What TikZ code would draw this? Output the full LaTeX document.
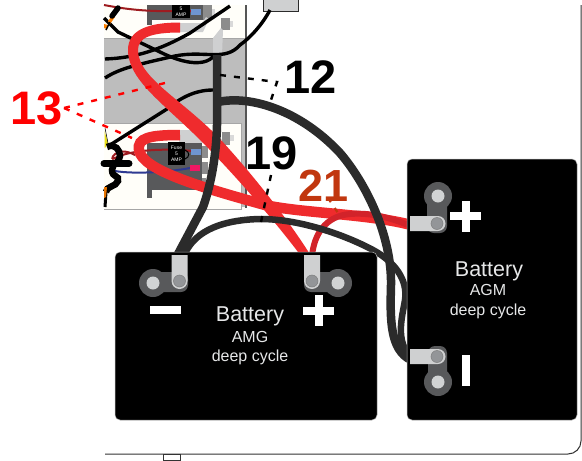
\documentclass[tikz,border=0pt]{standalone}
\usepackage{fontspec}
\setmainfont{Liberation Sans}
\definecolor{panelgrey}{HTML}{BDBDBD}
\definecolor{cream}{HTML}{FFFEF9}
\definecolor{blockgrey}{HTML}{58595B}
\definecolor{lugfill}{HTML}{CFD0D1}
\definecolor{holefill}{HTML}{939598}
\definecolor{postin}{HTML}{D1D3D4}
\definecolor{cabred}{HTML}{EF2B2D}
\definecolor{cabdark}{HTML}{D2232A}
\definecolor{cabblack}{HTML}{2B2B2B}
\definecolor{wirered}{HTML}{9E1B20}
\definecolor{wireblue}{HTML}{2E3A92}
\definecolor{fuseblue}{HTML}{6F94CF}
\definecolor{fusepink}{HTML}{EE1763}
\definecolor{numorange}{HTML}{C1370F}
\definecolor{textlight}{HTML}{E6E7E8}
\tikzset{
  battery/.style={fill=black,draw=black!30,line width=0.5pt,rounded corners=5pt},
  post/.style={circle,fill=blockgrey,minimum size=28pt,inner sep=0pt},
  postcore/.style={circle,fill=postin,minimum size=13pt,inner sep=0pt},
  hole/.style={circle,fill=holefill,draw=lugfill!60!black,line width=0.5pt,minimum size=12pt,inner sep=0pt},
  lug/.style={fill=lugfill},
  strap/.style={fill=blockgrey,rounded corners=7pt},
  redcable/.style={draw=cabred,line width=10.5pt},
  blackcable/.style={draw=cabblack,line width=8.5pt},
  thinwire/.style={draw=black,line width=3.4pt},
  bign/.style={font=\bfseries\fontsize{47pt}{47pt}\selectfont,inner sep=0pt},
  batt/.style={text=textlight,inner sep=0pt},
  dashred/.style={draw=red,line width=2.4pt,dash pattern=on 6pt off 8pt},
  dashblack/.style={draw=black,line width=2.4pt,dash pattern=on 6pt off 8pt},
  dashorange/.style={draw=numorange,line width=2.2pt,dash pattern=on 5pt off 7pt},
  sign/.style={fill=white},
  fuselabel/.style={fill=black,text=white,font=\fontsize{5pt}{6pt}\selectfont,align=center,inner sep=0pt},
}
\begin{document}
\begin{tikzpicture}[x=1pt,y=-1pt]
\useasboundingbox (0,0) rectangle (582,461);
\fill[white] (0,0) rectangle (582,461);
% outer frame
\draw[black!80,line width=1pt] (105,454) -- (568,454) arc[start angle=270,delta angle=90,radius=13pt] -- (581,5);
\draw[black!80,fill=white,line width=0.7pt] (163.5,454.5) rectangle (180,460.5);
\draw[cabblack,fill=lugfill,line width=1pt] (263,-2) -- (263,11) -- (298,11) -- (298,-2);
% panel
\fill[cream] (104,5) rectangle (245,210);
\fill[panelgrey] (104,38) rectangle (245,123);
\fill[panelgrey] (241,123) rectangle (245,207);
\draw[black!35,line width=0.7pt] (104,38) -- (245,38);
\draw[black!35,line width=0.8pt] (104,123) -- (241,123) -- (241,209.5) -- (104,209.5);
\draw[cabblack!80,line width=2pt] (246,5) -- (246,208);
% upper fuse block
\fill[blockgrey] (147,5) rectangle (152,25);
\fill[blockgrey] (147,5) rectangle (205,20);
\draw[wirered,line width=2pt] (104,5) .. controls (130,10) and (150,12) .. (192,11);
\node[fuselabel,minimum width=18pt,minimum height=13pt] (topfuse) at (181,11.5) {5\\AMP};
\fill[fuseblue] (191,8.5) rectangle (201,14.5);
\fill[black!45] (203,5) rectangle (212,20);
\fill[black!15] (212,9) rectangle (215,16);
\fill[lugfill] (179,23) -- (202,23) -- (206,17) -- (209,19) -- (203,32) -- (179,32) -- cycle;
\fill[black!45] (221,18) rectangle (230,30);
\fill[black!15] (230,21) rectangle (233,27);
\fill[lugfill] (213,38) -- (221,28) -- (223,30) -- (222,55) -- (213,55) -- cycle;
% lower fuse block
\fill[blockgrey] (147,143) rectangle (152,198);
\fill[blockgrey] (147,143) rectangle (202,190);
\fill[lugfill] (179,130) rectangle (203,143);
\fill[black!45] (202,146) rectangle (208,158);
\fill[black!45] (202,162) rectangle (208,174);
\fill[black!45] (202,178) rectangle (206,190);
\fill[black!45] (222,132) rectangle (230,145);
\fill[black!15] (230,135) rectangle (234,141);
\draw[black!25,line width=0.5pt] (203,131) -- (222,140);
\draw[wirered,line width=2pt] (192,151) .. controls (165,148) and (130,150) .. (115,158) .. controls (108,163) and (115,144) .. (135,155);
\draw[wireblue,line width=2pt] (190,168) .. controls (170,172) and (130,175) .. (110,170);
\fill[fuseblue] (191,149) rectangle (201,155);
\fill[fusepink] (190,165) rectangle (200,171);
\node[fuselabel,minimum width=17pt,minimum height=23pt] (lowfuse) at (176.5,153.5) {Fuse\\5\\AMP};
\draw[black,line width=1pt] (185,150) .. controls (190,152) and (190,157) .. (185,159);
% small harness, upper left
\draw[thinwire] (104,18) -- (118,32) -- (160,52) .. controls (180,62) and (203,68) .. (214,56);
\fill[orange] (108,21) -- (113,15) -- (115,17) -- (110,24) -- cycle;
\fill[orange] (104,24) -- (108,25) -- (107,29) -- (104,28) -- cycle;
\draw[black,line width=5.5pt,line cap=round] (112,16) -- (118,8);
\draw[black,line width=1.5pt] (106,30) -- (110,22);
% wires on the grey panel
\draw[thinwire] (105,59) .. controls (135,58) and (160,50) .. (190,33) -- (230,6);
\draw[thinwire] (105,78) .. controls (120,68) and (140,64) .. (175,56) .. controls (205,50) and (225,62) .. (240,45) .. controls (250,38) and (262,25) .. (270,10);
\draw[thinwire] (110,145) -- (167,109) .. controls (180,98) and (195,90) .. (213,90);
% lower left harness
\fill[yellow!90!black] (104.5,131) -- (108,143) -- (105,148) -- (104.5,147) -- cycle;
\draw[black,line width=0.5pt] (105,128) -- (108,143);
\draw[black,line width=6.5pt] (107,147) .. controls (115,143) and (120,150) .. (120,156) .. controls (120,163) and (112,163) .. (112,170) .. controls (112,178) and (120,175) .. (118,181) .. controls (116,187) and (106,186) .. (106,192);
\draw[black,line width=7pt,line cap=round] (104,163.5) -- (129,163.5);
\draw[black,line width=3pt] (106,192) -- (105,207);
\fill[orange!90!black] (104,187) -- (107,187) -- (106,197) -- (104,198) -- cycle;
% red cables
\fill[cabred] (180,22.5) .. controls (148,22.5) and (128,30) .. (128,50) .. controls (128,82) and (168,106) .. (209,149) .. controls (244,185) and (281,229) .. (301,256) -- (311,256) .. controls (290,222) and (254,176) .. (221,140) .. controls (182,99) and (138,78) .. (138,50) .. controls (138,38) and (150,32.5) .. (180,32.5) -- cycle;
\draw[redcable] (180,135) .. controls (150,135) and (137,138) .. (139,150) .. controls (142,170) and (200,187) .. (265,205) .. controls (300,213) and (370,214) .. (411,225);
\draw[cabdark,line width=6pt] (312,256) .. controls (314,235) and (325,216) .. (350,214) .. controls (375,212) and (395,220) .. (411,226);
% black cables
\draw[blackcable] (217,55) -- (217,110) .. controls (218,150) and (211,185) .. (203,207) -- (177,256);
\draw[blackcable] (218,102) .. controls (250,95) and (300,110) .. (340,153) .. controls (365,182) and (392,235) .. (391,285) .. controls (390,320) and (390,350) .. (411,360);
\draw[cabblack,line width=6.5pt] (184,256) .. controls (192,235) and (215,220) .. (260,219) .. controls (300,219) and (345,235) .. (373,250) .. controls (395,262) and (408,280) .. (405,300) .. controls (402,318) and (395,340) .. (411,358);
% batteries
\draw[battery] (115,252) rectangle (377,420);
\draw[battery] (407,159) rectangle (577,420);
% battery 1 terminals
\fill[strap] (153,272) rectangle (188,292);
\fill[strap] (304,272) rectangle (340,292);
\node[post] (p1) at (153,283) {};
\node[postcore] at (p1) {};
\node[post] (p2) at (338,283) {};
\node[postcore] at (p2) {};
\path[lug] (171.5,255) -- (187.5,255) -- (187.5,281) arc[start angle=0,delta angle=-180,radius=8pt] -- cycle;
\path[lug] (304,255) -- (320,255) -- (320,281) arc[start angle=0,delta angle=-180,radius=8pt] -- cycle;
\node[hole] at (179.5,281) {};
\node[hole] at (312,281) {};
% battery 2 terminals
\fill[strap] (427,196) rectangle (447,233);
\fill[strap] (428,346) rectangle (447,382);
\node[post] (p3) at (438,196) {};
\node[postcore] at (p3) {};
\node[post] (p4) at (438,382) {};
\node[postcore] at (p4) {};
\path[lug] (410,216) -- (438,216) arc[start angle=90,delta angle=-180,radius=7.5pt] -- (410,231) -- cycle;
\path[lug] (410,349) -- (438,349) arc[start angle=90,delta angle=-180,radius=7.5pt] -- (410,364) -- cycle;
\node[hole] at (437,223.5) {};
\node[hole] at (437,356.5) {};
% signs
\fill[sign] (150,306) rectangle (181,314);
\fill[sign] (303,306.5) rectangle (334,314.5);
\fill[sign] (314.5,295) rectangle (322.5,326);
\fill[sign] (450,212) rectangle (481,220);
\fill[sign] (461.5,201) rectangle (469.5,232);
\fill[sign] (462,355) rectangle (470,386);
% battery text
\node[batt,font=\fontsize{21.5pt}{23pt}\selectfont] (b1) at (250,316) {Battery};
\node[batt,font=\fontsize{16pt}{17pt}\selectfont] (b1a) at (250,337) {AMG};
\node[batt,font=\fontsize{16pt}{17pt}\selectfont] (b1b) at (250,357) {deep cycle};
\node[batt,font=\fontsize{21.5pt}{23pt}\selectfont] (b2) at (489,271) {Battery};
\node[batt,font=\fontsize{16pt}{17pt}\selectfont] (b2a) at (488,290) {AGM};
\node[batt,font=\fontsize{16pt}{17pt}\selectfont] (b2b) at (488,311) {deep cycle};
% numbers
\node[bign,text=red] (n13) at (36.5,108) {13};
\node[bign,text=black] (n12) at (310.5,77) {12};
\node[bign,text=black] (n19) at (272,153) {19};
\node[bign,text=numorange,font=\bfseries\fontsize{45pt}{45pt}\selectfont] (n21) at (323.5,186) {21};
% leaders
\coordinate (c13a) at (165,83);
\coordinate (c13b) at (132,138);
\coordinate (c13o) at (64,108);
\draw[dashred] (c13o) -- (c13a);
\draw[dashred] (c13o) -- (c13b);
\coordinate (c12a) at (220,75);
\coordinate (c12b) at (277,82);
\coordinate (c12c) at (271,100);
\draw[dashblack] (c12a) -- (c12b) -- (c12c);
\coordinate (c19a) at (271,175);
\coordinate (c19b) at (261,222);
\draw[dashblack] (c19a) -- (c19b);
\coordinate (c21a) at (328,198);
\coordinate (c21b) at (340,216);
\draw[dashorange] (c21a) -- (c21b);
\end{tikzpicture}
\end{document}
